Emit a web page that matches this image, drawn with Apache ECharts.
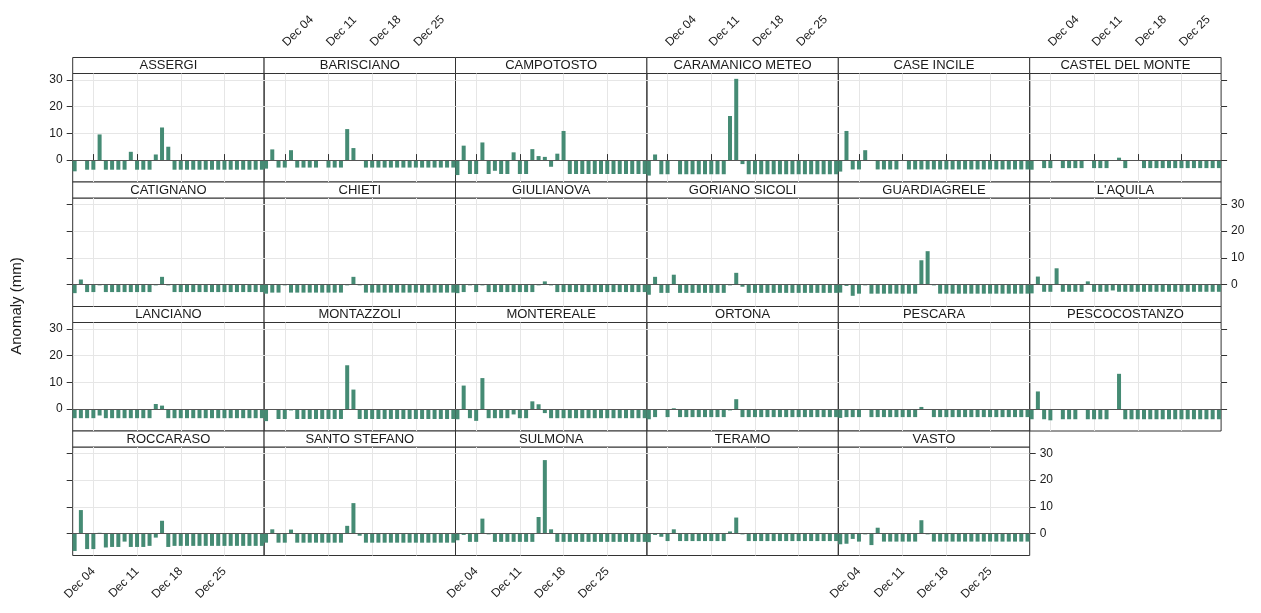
<!DOCTYPE html>
<html>
<head>
<meta charset="utf-8">
<title>Anomaly (mm)</title>
<script src="https://cdn.jsdelivr.net/npm/echarts@6/dist/echarts.min.js"></script>
<style>
html, body { margin: 0; padding: 0; background: #fff; }
#main { width: 1261px; height: 613px; }
</style>
</head>
<body>
<div id="main"></div>
<script>
var stations = ['ASSERGI', 'BARISCIANO', 'CAMPOTOSTO', 'CARAMANICO METEO', 'CASE INCILE', 'CASTEL DEL MONTE',
  'CATIGNANO', 'CHIETI', 'GIULIANOVA', 'GORIANO SICOLI', 'GUARDIAGRELE', "L'AQUILA",
  'LANCIANO', 'MONTAZZOLI', 'MONTEREALE', 'ORTONA', 'PESCARA', 'PESCOCOSTANZO',
  'ROCCARASO', 'SANTO STEFANO', 'SULMONA', 'TERAMO', 'VASTO'];

var days = [1, 2, 3, 4, 5, 6, 7, 8, 9, 10, 11, 12, 13, 14, 15, 16, 17, 18, 19, 20, 21, 22, 23, 24, 25, 26, 27, 28, 29, 30, 31];
var tickDays = [4, 11, 18, 25];
var tickLabels = ['Dec 04', 'Dec 11', 'Dec 18', 'Dec 25'];
var yTicks = [0, 10, 20, 30];

var assergi = [-4.2, -0.3, -3.6, -3.6, 9.6, -3.6, -3.6, -3.6, -3.6, 3.1, -3.6, -3.6, -3.6, 2.1, 12.2, 5.0,
  -3.6, -3.6, -3.6, -3.6, -3.6, -3.6, -3.6, -3.6, -3.6, -3.6, -3.6, -3.6, -3.6, -3.6, -3.6];
var barisciano = [-3.2, 4.0, -2.8, -2.8, 3.7, -2.8, -2.8, -2.8, -2.8, -0.2, -2.8, -2.8, -2.8, 11.6, 4.5, -0.3,
  -2.8, -2.8, -2.8, -2.8, -2.8, -2.8, -2.8, -2.8, -2.8, -2.8, -2.8, -2.8, -2.8, -2.8, -2.8];
var campotosto = [-5.6, 5.4, -5.2, -5.2, 6.6, -5.2, -4.0, -5.2, -5.2, 2.9, -5.2, -5.2, 4.1, 1.5, 1.2, -2.5,
  2.4, 10.9, -5.2, -5.2, -5.2, -5.2, -5.2, -5.2, -5.2, -5.2, -5.2, -5.2, -5.2, -5.2, -5.2];
var caramanico = [-5.8, 2.1, -5.3, -5.3, -0.3, -5.3, -5.3, -5.3, -5.3, -5.3, -5.3, -5.3, -5.3, 16.5, 30.4, -1.5,
  -5.3, -5.3, -5.3, -5.3, -5.3, -5.3, -5.3, -5.3, -5.3, -5.3, -5.3, -5.3, -5.3, -5.3, -5.3];
var caseIncile = [-4.3, 10.9, -3.5, -3.5, 3.7, -0.3, -3.5, -3.5, -3.5, -3.5, -0.3, -3.5, -3.5, -3.5, -3.5, -3.5,
  -3.5, -3.5, -3.5, -3.5, -3.5, -3.5, -3.5, -3.5, -3.5, -3.5, -3.5, -3.5, -3.5, -3.5, -3.5];
var castelDelMonte = [-3.6, -0.3, -3.0, -3.0, -0.3, -3.0, -3.0, -3.0, -3.0, -0.3, -3.0, -3.0, -3.0, -0.3, 0.9, -3.0,
  -0.3, -0.3, -3.0, -3.0, -3.0, -3.0, -3.0, -3.0, -3.0, -3.0, -3.0, -3.0, -3.0, -3.0, -3.0];
var catignano = [-3.2, 1.9, -2.8, -2.8, -0.3, -2.8, -2.8, -2.8, -2.8, -2.8, -2.8, -2.8, -2.8, -0.3, 2.9, -0.3,
  -2.8, -2.8, -2.8, -2.8, -2.8, -2.8, -2.8, -2.8, -2.8, -2.8, -2.8, -2.8, -2.8, -2.8, -2.8];
var chieti = [-3.4, -3.0, -3.0, -0.3, -3.0, -3.0, -3.0, -3.0, -3.0, -3.0, -3.0, -3.0, -3.0, -0.3, 2.9, -0.3,
  -3.0, -3.0, -3.0, -3.0, -3.0, -3.0, -3.0, -3.0, -3.0, -3.0, -3.0, -3.0, -3.0, -3.0, -3.0];
var giulianova = [-3.2, -2.8, -0.3, -2.8, -0.3, -2.8, -2.8, -2.8, -2.8, -2.8, -2.8, -2.8, -2.8, -0.3, 1.2, -0.3,
  -2.8, -2.8, -2.8, -2.8, -2.8, -2.8, -2.8, -2.8, -2.8, -2.8, -2.8, -2.8, -2.8, -2.8, -2.8];
var gorianoSicoli = [-3.8, 2.9, -3.1, -3.1, 3.7, -3.1, -3.1, -3.1, -3.1, -3.1, -3.1, -3.1, -3.1, -0.3, 4.4, -0.8,
  -3.1, -3.1, -3.1, -3.1, -3.1, -3.1, -3.1, -3.1, -3.1, -3.1, -3.1, -3.1, -3.1, -3.1, -3.1];
var guardiagrele = [-3.0, -0.5, -4.2, -3.4, -0.3, -3.4, -3.4, -3.4, -3.4, -3.4, -3.4, -3.4, -3.4, 9.1, 12.5, -0.3,
  -3.4, -3.4, -3.4, -3.4, -3.4, -3.4, -3.4, -3.4, -3.4, -3.4, -3.4, -3.4, -3.4, -3.4, -3.4];
var laquila = [-3.3, 3.0, -2.7, -2.7, 6.1, -2.7, -2.7, -2.7, -2.7, 1.2, -2.7, -2.7, -2.7, -2.2, -2.7, -2.7,
  -2.7, -2.7, -2.7, -2.7, -2.7, -2.7, -2.7, -2.7, -2.7, -2.7, -2.7, -2.7, -2.7, -2.7, -2.7];
var lanciano = [-3.4, -3.4, -3.4, -3.4, -2.4, -3.4, -3.4, -3.4, -3.4, -3.4, -3.4, -3.4, -3.4, 1.9, 1.3, -3.4,
  -3.4, -3.4, -3.4, -3.4, -3.4, -3.4, -3.4, -3.4, -3.4, -3.4, -3.4, -3.4, -3.4, -3.4, -3.4];
var montazzoli = [-4.5, -0.3, -3.7, -3.7, -0.5, -3.7, -3.7, -3.7, -3.7, -3.7, -3.7, -3.7, -3.7, 16.4, 7.3, -3.7,
  -3.7, -3.7, -3.7, -3.7, -3.7, -3.7, -3.7, -3.7, -3.7, -3.7, -3.7, -3.7, -3.7, -3.7, -3.7];
var montereale = [-3.8, 8.8, -3.4, -4.4, 11.6, -3.4, -3.4, -3.4, -3.4, -2.0, -3.4, -3.4, 2.9, 1.8, -1.5, -3.4,
  -3.4, -3.4, -3.4, -3.4, -3.4, -3.4, -3.4, -3.4, -3.4, -3.4, -3.4, -3.4, -3.4, -3.4, -3.4];
var ortona = [-3.8, -3.0, -0.3, -3.0, 0.3, -3.0, -3.0, -3.0, -3.0, -3.0, -3.0, -3.0, -3.0, -0.5, 3.7, -3.0,
  -3.0, -3.0, -3.0, -3.0, -3.0, -3.0, -3.0, -3.0, -3.0, -3.0, -3.0, -3.0, -3.0, -3.0, -3.0];
var pescara = [-3.3, -3.0, -3.0, -3.0, -0.3, -3.0, -3.0, -3.0, -3.0, -3.0, -3.0, -3.0, -3.0, 0.8, -0.3, -3.0,
  -3.0, -3.0, -3.0, -3.0, -3.0, -3.0, -3.0, -3.0, -3.0, -3.0, -3.0, -3.0, -3.0, -3.0, -3.0];
var pescocostanzo = [-3.8, 6.6, -3.8, -4.2, -0.3, -3.8, -3.8, -3.8, -0.3, -3.8, -3.8, -3.8, -3.8, -0.3, 13.2, -3.8,
  -3.8, -3.8, -3.8, -3.8, -3.8, -3.8, -3.8, -3.8, -3.8, -3.8, -3.8, -3.8, -3.8, -3.8, -3.8];
var roccaraso = [-6.5, 8.8, -5.8, -5.8, 0.3, -5.2, -5.0, -5.0, -3.0, -5.0, -5.0, -5.0, -4.6, -1.5, 4.8, -5.0,
  -4.6, -4.6, -4.6, -4.6, -4.6, -4.6, -4.6, -4.6, -4.6, -4.6, -4.6, -4.6, -4.6, -4.6, -4.6];
var santoStefano = [-3.4, 1.6, -3.4, -3.4, 1.5, -3.4, -3.4, -3.4, -3.4, -3.4, -3.4, -3.4, -3.4, 2.9, 11.4, -0.8,
  -3.4, -3.4, -3.4, -3.4, -3.4, -3.4, -3.4, -3.4, -3.4, -3.4, -3.4, -3.4, -3.4, -3.4, -3.4];
var sulmona = [-2.5, -0.5, -3.1, -3.1, 5.6, -0.3, -3.1, -3.1, -3.1, -3.1, -3.1, -3.1, -3.1, 6.2, 27.5, 1.6,
  -3.1, -3.1, -3.1, -3.1, -3.1, -3.1, -3.1, -3.1, -3.1, -3.1, -3.1, -3.1, -3.1, -3.1, -3.1];
var teramo = [-3.2, -0.5, -1.2, -2.8, 1.6, -2.8, -2.8, -2.8, -2.8, -2.8, -2.8, -2.8, -2.8, 0.8, 6.0, -0.3,
  -2.8, -2.8, -2.8, -2.8, -2.8, -2.8, -2.8, -2.8, -2.8, -2.8, -2.8, -2.8, -2.8, -2.8, -2.8];
var vasto = [-4.0, -3.8, -2.0, -3.0, -0.3, -4.3, 2.2, -3.0, -3.0, -3.0, -3.0, -3.0, -3.0, 5.0, -0.3, -3.0,
  -3.0, -3.0, -3.0, -3.0, -3.0, -3.0, -3.0, -3.0, -3.0, -3.0, -3.0, -3.0, -3.0, -3.0, -3.0];

var values = [assergi, barisciano, campotosto, caramanico, caseIncile, castelDelMonte,
  catignano, chieti, giulianova, gorianoSicoli, guardiagrele, laquila,
  lanciano, montazzoli, montereale, ortona, pescara, pescocostanzo,
  roccaraso, santoStefano, sulmona, teramo, vasto];

// panel layout (lattice style, 6 columns x 4 rows)
var nCol = 6, nRow = 4;
var left0 = 72.7, colW = 191.4, top0 = 57.5, rowH = 124.5, stripH = 16;
var font = 'Liberation Sans';
var ink = '#1a1a1a';
var border = '#333';

var grids = [], xAxes = [], yAxes = [], series = [], graphics = [];

function dayLabel(v) { return tickLabels[tickDays.indexOf(v)]; }

stations.forEach(function (name, i) {
  var r = Math.floor(i / nCol), c = i % nCol;
  var isLastInRow = (c === nCol - 1) || (i === stations.length - 1);
  var x = left0 + c * colW;
  var y = top0 + r * rowH;

  grids.push({
    left: x, top: y + stripH, width: colW, height: rowH - stripH,
    show: true, borderColor: border, borderWidth: 1, backgroundColor: 'transparent'
  });

  var top = r === 0;
  var xTicks = top || r === nRow - 1;
  var xLabels = (top && c % 2 === 1) || (r === nRow - 1 && c % 2 === 0);
  var xLabel = {
    show: xLabels, customValues: tickDays, rotate: 45, margin: 14,
    color: ink, fontFamily: font, fontSize: 12, formatter: dayLabel
  };
  if (top) {
    // top labels: start just above the tick and climb to the right
    xLabel.margin = 29;
    xLabel.align = 'left';
    xLabel.verticalAlign = 'middle';
  }
  xAxes.push({
    type: 'value', gridIndex: i, position: top ? 'top' : 'bottom', min: 0.69, max: 31.35,
    axisLine: { show: false },
    axisTick: { show: xTicks, customValues: tickDays, length: 6, lineStyle: { color: border } },
    axisLabel: xLabel,
    splitLine: { show: true, lineStyle: { color: '#e6e6e6', width: 1 } }
  });

  var yTicksOn = c === 0 || isLastInRow;
  var yLabels = (c === 0 && r % 2 === 0) || (isLastInRow && c !== 0 && r % 2 === 1);
  yAxes.push({
    type: 'value', gridIndex: i, position: c === 0 ? 'left' : 'right', min: -8.2, max: 32.4,
    axisLine: { show: false },
    axisTick: { show: yTicksOn, customValues: yTicks, length: 6, lineStyle: { color: border } },
    axisLabel: { show: yLabels, customValues: yTicks, margin: 10, color: ink, fontFamily: font, fontSize: 12 },
    splitLine: { show: true, lineStyle: { color: '#e6e6e6', width: 1 } }
  });

  series.push({
    type: 'bar', name: name, xAxisIndex: i, yAxisIndex: i,
    barWidth: 4,
    itemStyle: { color: '#458B74' },
    data: days.map(function (d, j) { return [d, values[i][j]]; }),
    markLine: {
      silent: true, symbol: 'none', animation: false,
      label: { show: false },
      lineStyle: { color: '#555', width: 1, type: 'solid' },
      data: [{ yAxis: 0 }]
    }
  });

  graphics.push({
    type: 'rect',
    shape: { x: x, y: y, width: colW, height: stripH },
    style: { fill: '#fff', stroke: border, lineWidth: 1 },
    textContent: { style: { text: name, font: '13px ' + font, fill: ink } },
    textConfig: { position: 'inside' }
  });
});

graphics.push({
  type: 'text', x: 17, y: 306, rotation: Math.PI / 2,
  style: { text: 'Anomaly (mm)', font: '15px ' + font, fill: ink, align: 'center', verticalAlign: 'middle' }
});

var myChart = echarts.init(document.getElementById('main'));
myChart.setOption({
  animation: false,
  backgroundColor: '#fff',
  grid: grids,
  xAxis: xAxes,
  yAxis: yAxes,
  series: series,
  graphic: graphics
});
</script>
</body>
</html>
